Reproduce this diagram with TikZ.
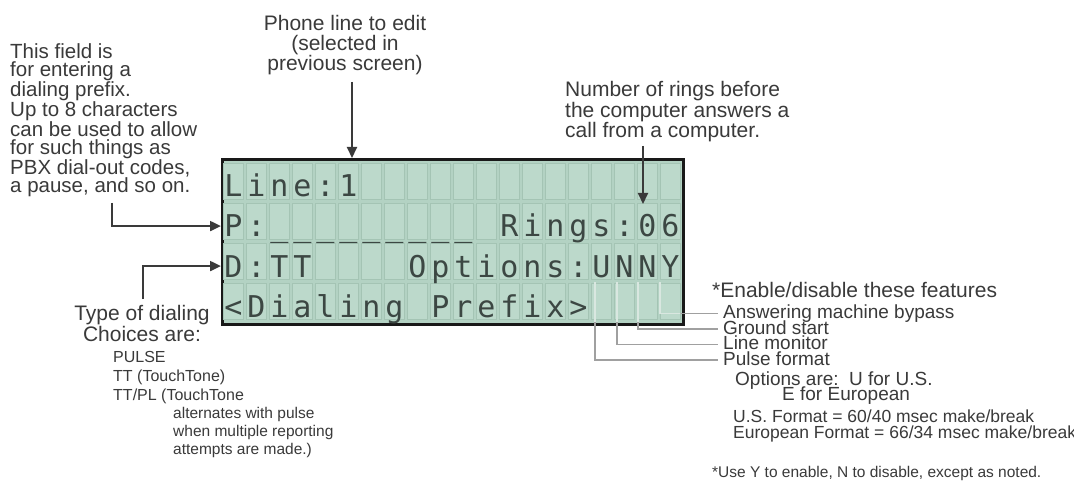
\documentclass[tikz,border=0pt]{standalone}
\usepackage{fontspec}
\setmainfont{Liberation Sans}
\newfontfamily\lcdfont{DejaVu Sans Mono}
\usetikzlibrary{arrows.meta}
\definecolor{txt}{HTML}{3A3A3A}
\definecolor{lcdbg}{HTML}{B3D2C3}
\definecolor{cellbg}{HTML}{BCD9CB}
\definecolor{cellln}{HTML}{A4C4B4}
\definecolor{lcdtxt}{HTML}{3C4743}
\definecolor{connln}{HTML}{A0A0A0}
\definecolor{connin}{HTML}{D9E7E0}
\newcommand\lcdrow[3]{%
  \foreach \ch [count=\k from #2] in {#3} {%
    \node[lcdch] (c#1-\k) at ({222+23*\k+11.5},{197+40*#1}) {\ch};}}
\begin{document}
\begin{tikzpicture}[x=1pt,y=-1pt,
  lbl/.style={inner sep=0pt,text=txt},
  lcdch/.style={inner sep=0pt,anchor=base,text=lcdtxt,font=\lcdfont\fontsize{30}{30}\selectfont},
  feat/.style={inner xsep=5pt,inner ysep=0pt,anchor=base west,text=txt,
    text height=14pt,text depth=4pt,font=\fontsize{19}{19}\selectfont},
  arr/.style={draw=txt,line width=2pt,-{Triangle[length=11pt,width=10pt]}},
  conn/.style={draw=connln,line width=1.6pt},
  connlight/.style={draw=connin,line width=1.6pt}]
\fill[white] (0,0) rectangle (1074,481);
\useasboundingbox (0,0) rectangle (1074,481);

% LCD panel
\node[draw=black!90,line width=3pt,fill=lcdbg,minimum width=461pt,minimum height=165pt,
  inner sep=0pt,anchor=north west] (lcd) at (221,158) {};
\foreach \r in {0,...,3}{
  \foreach \c in {0,...,19}{
    \filldraw[fill=cellbg,draw=cellln,line width=0.8pt]
      ({222+23*\c+1.5},{161+40*\r+2}) rectangle ++(20,36);
  }
}
\lcdrow{0}{0}{L,i,n,e,:,1}
\lcdrow{1}{0}{P,:,\_,\_,\_,\_,\_,\_,\_,\_,\_}
\lcdrow{1}{12}{R,i,n,g,s,:,0,6}
\lcdrow{2}{0}{D,:,T,T}
\lcdrow{2}{8}{O,p,t,i,o,n,s,:,U,N,N,Y}
\lcdrow{3}{0}{<,D,i,a,l,i,n,g}
\lcdrow{3}{9}{P,r,e,f,i,x,>}

% texts (base anchor = baseline of the last line)
\node[lbl,align=left,anchor=base west,font=\fontsize{20.5}{18}\selectfont] (prefix) at (10,193)
  {This field is\\for entering a\\dialing prefix.\\Up to 8 characters\\can be used to allow\\for such things as\\PBX dial-out codes,\\a pause, and so on.};
\node[lbl,align=center,anchor=base,font=\fontsize{21}{20}\selectfont] (phone) at (345,71)
  {Phone line to edit\\(selected in\\previous screen)};
\node[lbl,align=left,anchor=base west,font=\fontsize{21}{19.5}\selectfont] (rings) at (565,138)
  {Number of rings before\\the computer answers a\\call from a computer.};
\node[lbl,align=center,anchor=base,font=\fontsize{21}{19}\selectfont] (type) at (142,341)
  {Type of dialing\\Choices are:};
\node[lbl,align=left,anchor=base west,font=\fontsize{16}{19}\selectfont] (choices) at (113,400)
  {PULSE\\TT (TouchTone)\\TT/PL (TouchTone};
\node[lbl,align=left,anchor=base west,font=\fontsize{15.5}{18}\selectfont] (alt) at (173,454)
  {alternates with pulse\\when multiple reporting\\attempts are made.)};
\node[lbl,anchor=base west,font=\fontsize{21}{21}\selectfont] (enable) at (712,298)
  {*Enable/disable these features};
\node[feat] (fans) at (718,318.5) {Answering machine bypass};
\node[feat] (fgnd) at (718,334) {Ground start};
\node[feat] (flin) at (718,349.5) {Line monitor};
\node[feat] (fpul) at (718,365) {Pulse format};
\node[lbl,anchor=base west,font=\fontsize{19}{19}\selectfont] (optus) at (735,385)
  {Options are:\hspace{0.55em}U for U.S.};
\node[lbl,anchor=base west,font=\fontsize{19}{19}\selectfont] (opteu) at (782,400)
  {E for European};
\node[lbl,align=left,anchor=base west,font=\fontsize{17.5}{16}\selectfont] (fmt) at (733,438)
  {U.S. Format = 60/40 msec make/break\\European Format = 66/34 msec make/break};
\node[lbl,anchor=base west,font=\fontsize{15.5}{15.5}\selectfont] (note) at (712,477)
  {*Use Y to enable, N to disable, except as noted.};

% arrows
\coordinate (phoneA) at (352,82);
\draw[arr] (phoneA) -- (lcd.north -| phoneA);
\coordinate (ringsA) at (643,146);
\coordinate (ringsT) at (643,204);
\draw[arr] (ringsA) -- (ringsT);
\coordinate (pA) at (112,203);
\draw[arr] (pA) |- (lcd.west |- c1-0);
\coordinate (dA) at (143,299);
\draw[arr] (dA) |- (lcd.west |- c2-0);

% feature connectors
\coordinate (o1) at (660,282);
\coordinate (o2) at (638,282);
\coordinate (o3) at (617,282);
\coordinate (o4) at (595,282);
\draw[conn] (o1) |- (fans.west);
\draw[conn] (o2) |- (fgnd.west);
\draw[conn] (o3) |- (flin.west);
\draw[conn] (o4) |- (fpul.west);
\begin{scope}
  \clip (222.6,159.6) rectangle (680.4,321.4);
  \draw[connlight] (o1) |- (fans.west);
  \draw[connlight] (o2) |- (fgnd.west);
  \draw[connlight] (o3) |- (flin.west);
  \draw[connlight] (o4) |- (fpul.west);
\end{scope}
\end{tikzpicture}
\end{document}
